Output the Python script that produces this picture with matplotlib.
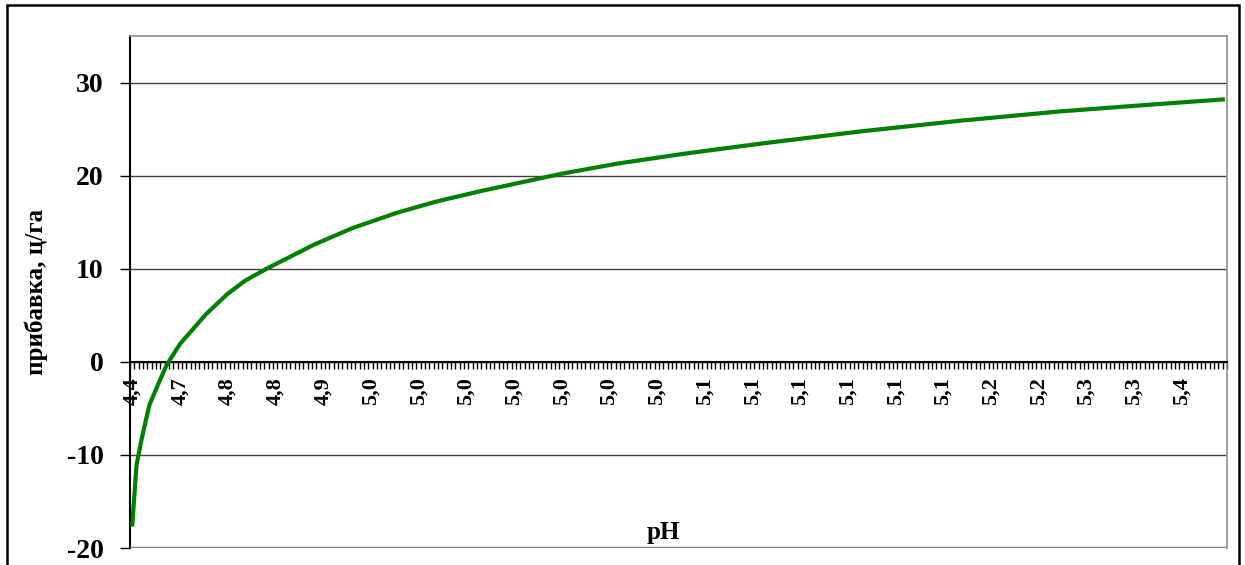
import matplotlib
matplotlib.use('Agg')
import matplotlib.pyplot as plt
import numpy as np
from matplotlib.patches import Rectangle

plt.rcParams['font.family'] = ['Liberation Serif', 'DejaVu Serif']
plt.rcParams['font.weight'] = 'bold'
plt.rcParams['axes.unicode_minus'] = False

# число категорий (значений pH) на оси
n_cat = 253
# подписи оси x (каждая 11-я категория)
label_step = 11
ph_labels = ["4,4", "4,7", "4,8", "4,8", "4,9", "5,0", "5,0", "5,0", "5,0", "5,0",
             "5,0", "5,0", "5,1", "5,1", "5,1", "5,1", "5,1", "5,1", "5,2", "5,2",
             "5,3", "5,3", "5,4"]
# прибавка, ц/га в отдельных категориях
cat_idx = [0, 1, 2, 3, 4, 6, 8, 11, 14, 17, 22, 26, 31, 42, 51, 61, 70, 80,
           99, 112, 128, 146, 168, 191, 214, 237, 252]
pribavka = [-17.7, -11.1, -8.7, -6.6, -4.6, -2.4, -0.3, 1.9, 3.5, 5.1, 7.3, 8.7,
            10.0, 12.6, 14.4, 16.0, 17.2, 18.3, 20.2, 21.3, 22.4, 23.5, 24.75,
            25.9, 26.9, 27.7, 28.2]

fig = plt.figure(figsize=(12.45, 5.65), dpi=100)
ax = fig.add_axes([130/1245, 17/565, 1097/1245, 512/565])

ax.plot(np.array(cat_idx) + 0.5, pribavka, color='#008000', lw=3,
        solid_capstyle='butt', solid_joinstyle='round', zorder=5)

ax.set_xlim(0, n_cat)
ax.set_ylim(-20, 35)
ax.set_yticks(range(-20, 31, 10))
ax.grid(axis='y', color='#404040', lw=1)
ax.axhline(-20, color='#808080', lw=2.5, zorder=3)
ax.set_axisbelow(True)

ax.spines['left'].set_color('black')
ax.spines['left'].set_linewidth(1.5)
ax.spines['top'].set_color('#909090')
ax.spines['right'].set_color('#909090')
ax.spines['top'].set_linewidth(1.2)
ax.spines['right'].set_linewidth(1.2)
ax.spines['bottom'].set_position(('data', 0))
ax.spines['bottom'].set_color('black')
ax.spines['bottom'].set_linewidth(1.5)

ax.set_xticks([k*label_step + 0.5 for k in range(len(ph_labels))])
ax.set_xticklabels(ph_labels, rotation=90, fontsize=16, fontweight='bold')
ax.set_xticks(np.arange(0, n_cat + 1), minor=True)
ax.tick_params(axis='x', which='major', length=0, pad=11)
ax.tick_params(axis='x', which='minor', length=5, width=1, direction='out')
ax.tick_params(axis='y', length=7, width=1, pad=12, labelsize=20)

fig.text(36/1245, 0.5*(1 - 36/565) + 0.5*(17/565), 'прибавка, ц/га', rotation=90,
         ha='center', va='center', fontsize=18, fontweight='bold')
fig.text(663/1245, 1 - 533/565, 'pH', ha='center', va='center',
         fontsize=18, fontweight='bold')

fig.patches.append(Rectangle((7/1245, -0.02), 1232/1245, 1.02 - 5/565,
                             transform=fig.transFigure, fill=False,
                             ec='black', lw=1.8))

fig.savefig('out.png', dpi=100)
